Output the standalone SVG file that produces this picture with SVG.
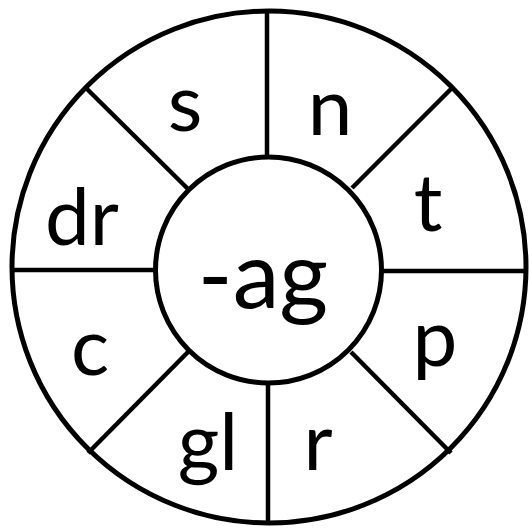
<svg xmlns="http://www.w3.org/2000/svg" width="529" height="530" viewBox="0 0 529 530">
<style>
.ln{stroke:#000;stroke-width:4.5;fill:none;stroke-linecap:butt}
.c{stroke:#000;stroke-width:5;fill:#fff}
.t{font-family:Lato,"Liberation Sans",Arial,sans-serif;font-size:80px;fill:#000;text-anchor:middle}
</style>
<rect width="529" height="530" fill="#fff"/>
<g id="outer"><ellipse class="c" cx="269" cy="267" rx="257" ry="256"/></g>
<g id="connectors">
<line class="ln" x1="267" y1="12" x2="267" y2="157"/>
<line class="ln" x1="268" y1="383" x2="268" y2="523"/>
<line class="ln" x1="12" y1="270" x2="157" y2="270"/>
<line class="ln" x1="380" y1="271" x2="526" y2="271"/>
<line class="ln" x1="87" y1="89" x2="188" y2="189"/>
<line class="ln" x1="452" y1="88" x2="352" y2="188"/>
<line class="ln" x1="188" y1="352" x2="88" y2="453"/>
<line class="ln" x1="351" y1="352" x2="451" y2="453"/>
</g>
<g id="hub"><circle class="c" cx="268.5" cy="270" r="113"/>
<text class="t" x="263" y="308" style="font-size:94px">-ag</text></g>
<g id="s"><text class="t" x="185" y="131">s</text></g>
<g id="n"><text class="t" x="330" y="135">n</text></g>
<g id="t"><text class="t" x="428" y="231">t</text></g>
<g id="dr"><text class="t" x="82" y="245">dr</text></g>
<g id="c"><text class="t" x="90" y="375">c</text></g>
<g id="p"><text class="t" x="435" y="366">p</text></g>
<g id="gl"><text class="t" x="208" y="470">gl</text></g>
<g id="r"><text class="t" x="318" y="470">r</text></g>
</svg>
